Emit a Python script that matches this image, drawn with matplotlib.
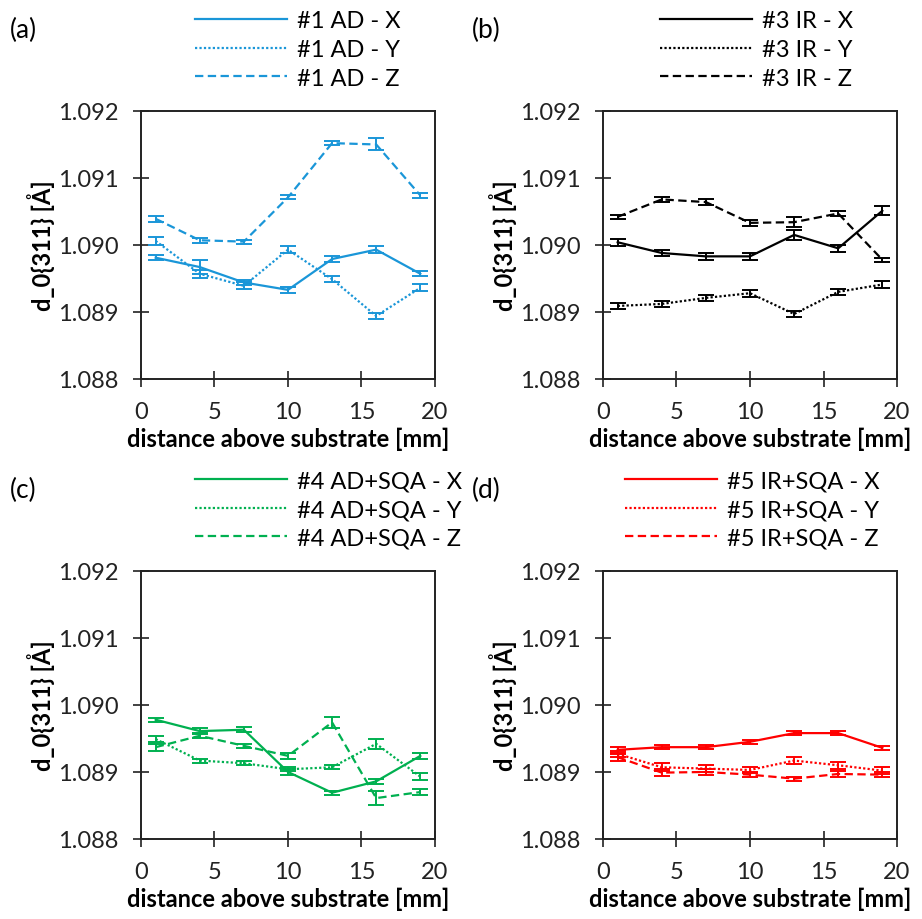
import matplotlib.pyplot as plt
from matplotlib.lines import Line2D

plt.rcParams['font.family'] = ['Lato', 'DejaVu Sans']

# measuring positions above the substrate [mm]
distance = [1, 4, 7, 10, 13, 16, 19]

# d_0{311} lattice spacing [Å] for each sample and direction
ad_x = [1.08981, 1.08967, 1.08944, 1.08933, 1.08979, 1.08993, 1.08957]
ad_y = [1.09006, 1.08957, 1.08939, 1.08993, 1.08949, 1.08894, 1.08936]
ad_z = [1.09039, 1.09007, 1.09005, 1.09071, 1.09152, 1.09150, 1.09074]
ad_x_err = [0.00004, 0.00010, 0.00004, 0.00004, 0.00005, 0.00005, 0.00004]
ad_y_err = [0.00006, 0.00006, 0.00005, 0.00005, 0.00005, 0.00005, 0.00005]
ad_z_err = [0.00004, 0.00004, 0.00003, 0.00003, 0.00003, 0.00009, 0.00004]

ir_x = [1.09004, 1.08988, 1.08983, 1.08983, 1.09015, 1.08995, 1.09051]
ir_y = [1.08909, 1.08912, 1.08921, 1.08928, 1.08897, 1.08930, 1.08941]
ir_z = [1.09042, 1.09068, 1.09064, 1.09033, 1.09034, 1.09047, 1.08978]
ir_x_err = [0.00005, 0.00005, 0.00005, 0.00005, 0.00008, 0.00005, 0.00007]
ir_y_err = [0.00005, 0.00004, 0.00005, 0.00005, 0.00005, 0.00005, 0.00005]
ir_z_err = [0.00003, 0.00004, 0.00004, 0.00004, 0.00007, 0.00004, 0.00003]

adsqa_x = [1.08978, 1.08961, 1.08963, 1.08900, 1.08869, 1.08886, 1.08924]
adsqa_y = [1.08949, 1.08917, 1.08913, 1.08904, 1.08907, 1.08942, 1.08893]
adsqa_z = [1.08937, 1.08954, 1.08939, 1.08924, 1.08974, 1.08861, 1.08870]
adsqa_x_err = [0.00003, 0.00004, 0.00004, 0.00005, 0.00003, 0.00004, 0.00004]
adsqa_y_err = [0.00005, 0.00003, 0.00003, 0.00003, 0.00003, 0.00007, 0.00005]
adsqa_z_err = [0.00005, 0.00004, 0.00003, 0.00004, 0.00008, 0.00010, 0.00004]

irsqa_x = [1.08933, 1.08937, 1.08937, 1.08945, 1.08958, 1.08958, 1.08936]
irsqa_y = [1.08927, 1.08907, 1.08905, 1.08903, 1.08917, 1.08910, 1.08902]
irsqa_z = [1.08922, 1.08899, 1.08900, 1.08896, 1.08890, 1.08897, 1.08896]
irsqa_x_err = [0.00004, 0.00003, 0.00003, 0.00003, 0.00003, 0.00003, 0.00003]
irsqa_y_err = [0.00005, 0.00006, 0.00005, 0.00005, 0.00005, 0.00005, 0.00005]
irsqa_z_err = [0.00005, 0.00005, 0.00004, 0.00004, 0.00003, 0.00004, 0.00004]

panels = [
    ('(a)', '#1 AD', '#1a96d8', [ad_x, ad_y, ad_z], [ad_x_err, ad_y_err, ad_z_err], 0.184),
    ('(b)', '#3 IR', 'black', [ir_x, ir_y, ir_z], [ir_x_err, ir_y_err, ir_z_err], 0.194),
    ('(c)', '#4 AD+SQA', '#00b050', [adsqa_x, adsqa_y, adsqa_z],
     [adsqa_x_err, adsqa_y_err, adsqa_z_err], 0.184),
    ('(d)', '#5 IR+SQA', '#ff0000', [irsqa_x, irsqa_y, irsqa_z],
     [irsqa_x_err, irsqa_y_err, irsqa_z_err], 0.075),
]

directions = ['X', 'Y', 'Z']
line_styles = ['-', (0, (1, 1)), (0, (3.75, 2))]

# axes boxes in figure fractions [left, bottom, width, height]
boxes = [
    [0.1529, 0.5870, 0.3189, 0.2913],
    [0.6540, 0.5870, 0.3189, 0.2913],
    [0.1529, 0.0870, 0.3189, 0.2913],
    [0.6540, 0.0870, 0.3189, 0.2913],
]

fs = 17

fig = plt.figure(figsize=(9.22, 9.20), dpi=100)

for (tag, sample, color, series, errors, leg_x), box in zip(panels, boxes):
    ax = fig.add_axes(box)
    handles = []
    for vals, err, d, ls in zip(series, errors, directions, line_styles):
        ax.errorbar(distance, vals, yerr=err, color=color, linestyle=ls, linewidth=1.6,
                    elinewidth=1.4, capsize=6, capthick=1.4)
        # plain line for the legend, without the error bar glyph
        handles.append(Line2D([], [], color=color, linestyle=ls, linewidth=1.6,
                              label=sample + ' - ' + d))

    ax.set_xlim(0, 20)
    ax.set_ylim(1.088, 1.092)
    ax.set_xticks([0, 5, 10, 15, 20])
    ax.set_yticks([1.088, 1.089, 1.090, 1.091, 1.092])
    ax.set_yticklabels(['1.088', '1.089', '1.090', '1.091', '1.092'])
    ax.tick_params(direction='inout', length=12, width=1.2, labelsize=fs,
                   colors='#222222')
    ax.tick_params(axis='y', pad=10)
    ax.tick_params(axis='x', pad=10)
    for s in ax.spines.values():
        s.set_linewidth(1.4)
        s.set_color('#222222')

    ax.set_xlabel('distance above substrate [mm]', fontsize=fs, fontweight='bold', labelpad=3)
    ax.set_ylabel('d_0{311} [Å]', fontsize=fs, fontweight='bold', labelpad=2)

    # legend sits above the plotting area
    ax.legend(handles=handles, loc='upper left', bbox_to_anchor=(leg_x, 1.375),
              frameon=False, fontsize=fs, handlelength=3.9, handletextpad=0.42,
              labelspacing=0.32, borderpad=0, borderaxespad=0)

    fig.text(box[0] - 0.142, box[1] + box[3] + 0.089, tag, fontsize=19, va='center')

fig.savefig('out.png')
